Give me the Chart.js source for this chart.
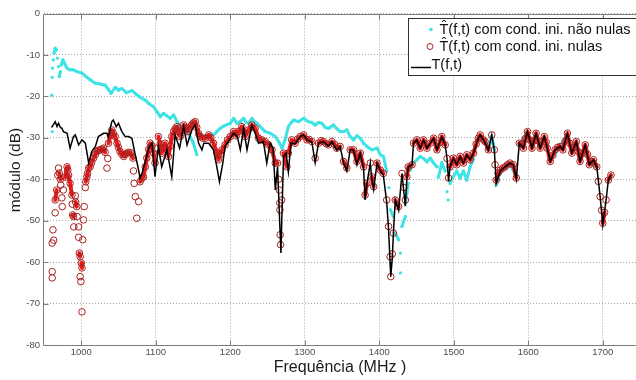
<!DOCTYPE html>
<html>
<head>
<meta charset="utf-8">
<script src="https://cdn.jsdelivr.net/npm/chart.js@4.4.1/dist/chart.umd.min.js"></script>
<style>
  html, body { margin: 0; padding: 0; background: #fff; overflow: hidden; }
  #wrap { width: 636px; height: 380px; overflow: hidden; }
</style>
</head>
<body>
<div id="wrap"><canvas id="chart" width="650" height="380"></canvas></div>
<script>
// eixos
var xTicks = [1000, 1100, 1200, 1300, 1400, 1500, 1600, 1700];
var yTicks = [0, -10, -20, -30, -40, -50, -60, -70, -80];
var seriesNames = ['T\u0302(f,t) com cond. ini. não nulas', 'T\u0302(f,t) com cond. ini. nulas', 'T(f,t)'];

// T^ com condições iniciais não nulas (pontos ciano)
var cyanFreq = [961, 960.5, 961, 961.5, 962.5, 963.5, 965, 967, 968, 969.5, 970.5, 972, 973, 975.5, 978.5, 981, 985, 989.5, 994,
  1001, 1005.5, 1012, 1018.5, 1025.5, 1032, 1036.5, 1040, 1045.5, 1050, 1054.5, 1060.5, 1068, 1072.5, 1079, 1086, 1090.5, 1097,
  1101.5, 1106, 1110.5, 1115, 1119.5, 1124, 1128.5, 1135, 1137.5, 1144, 1150.5, 1155, 1159.5, 1164, 1168.5, 1173, 1177.5, 1182,
  1186.5, 1193, 1200, 1204.5, 1209, 1213.5, 1218, 1221.5, 1224.5, 1229, 1232, 1236, 1242.5, 1247, 1253.5, 1260.5, 1265, 1269.5,
  1273.5, 1278, 1282, 1285, 1291.5, 1298.5, 1305, 1309.5, 1314, 1318.5, 1323, 1327.5, 1332, 1338.5, 1343, 1347.5, 1352, 1356.5,
  1361, 1365.5, 1370, 1374.5, 1379, 1383.5, 1390, 1397, 1401.5, 1405.5, 1410, 1413, 1415, 1419, 1421.5, 1426, 1428.5, 1428.5,
  1430.5, 1435, 1435, 1437, 1439, 1441.5, 1444, 1450.5, 1455, 1459.5, 1464, 1468.5, 1472.5, 1477.5, 1479.5, 1484, 1488.5, 1491,
  1492.5, 1495, 1499.5, 1504, 1508.5, 1513, 1517.5, 1522, 1526.5, 1533, 1540, 1546.5, 1551, 1554.5, 1557, 1562.5, 1575.5, 1584,
  1588, 1599, 1605, 1610.5, 1616, 1621.5, 1629.5, 1643, 1652.5, 1658.5, 1664.5, 1669.5, 1676.5, 1682, 1692, 1700, 1707.5, 1711];
var cyanDb = [-28.5, -19.7, -15.4, -13.2, -11.2, -9.6, -8.4, -8.8, -10.8, -12.8, -15.2, -14, -12.4, -11.2, -12.4, -13.2, -13.6, -13.6, -14,
  -14.4, -15.1, -16, -16.8, -17, -17.3, -18.3, -19.3, -17.8, -18.5, -18.1, -19.1, -18.6, -19.3, -20.2, -20.9, -21.7, -22.5,
  -23.7, -24.9, -24.1, -24.7, -25.3, -24.5, -26.1, -27.7, -27.3, -28.9, -31.3, -34, -29, -29.7, -29.5, -29.3, -29.3, -28.5,
  -27.7, -27, -26.5, -25.3, -26.5, -26.1, -25.3, -26.3, -26.5, -25.3, -26, -26.5, -27.7, -28.5, -28.9, -29.7, -30.9, -32.5,
  -30.5, -27.3, -26.3, -25.7, -26.1, -25.3, -26.1, -26.3, -26.9, -26.3, -26.5, -27.5, -27.7, -26.9, -27.8, -28.5, -28.5, -28.1,
  -29.7, -30.5, -29.5, -30.1, -31.3, -32.1, -32.9, -32.5, -34.1, -34.5, -38, -42, -47.4, -49, -53, -54.6, -57.8, -62.6,
  -51.4, -49, -45.8, -43.4, -41, -37.8, -36.5, -35.3, -34.5, -35, -35.8, -34.9, -36, -37, -39.5, -36, -38, -43,
  -45, -41, -39.4, -38, -39.7, -38, -40.2, -37, -35, -30.5, -30.5, -33, -29.5, -33, -41.4, -38, -36.3, -39.5,
  -31.5, -28.7, -32.3, -29, -32.3, -29.8, -35.5, -32, -29, -33.5, -31, -35.5, -31.8, -36.3, -37, -50, -40.3, -39];

// T^ com condições iniciais nulas (círculos vermelhos)
var redFreq = [961, 961, 961, 962, 963, 965, 965, 967, 968.5, 969.5, 970.5, 972, 972.5, 974, 974.5, 976, 978.5, 981, 982, 983, 985,
  987.5, 988, 988.5, 989.5, 990, 992, 992.5, 994, 994.5, 996.5, 996.5, 997.5, 998.5, 998.5, 999.5, 1000, 1001, 1001, 1002, 1003,
  1004, 1005.5, 1006, 1007.5, 1008.5, 1010, 1012, 1014, 1016.5, 1019, 1021, 1023, 1025.5, 1028, 1030, 1032, 1034.5, 1035.5, 1036.5,
  1039, 1041, 1043, 1045.5, 1048, 1050, 1052, 1054.5, 1057, 1059, 1061, 1063.5, 1066, 1069.5, 1070, 1071, 1072.5, 1074.5, 1077,
  1079, 1081.5, 1083.5, 1086, 1088, 1090.5, 1092.5, 1095, 1097, 1099, 1101.5, 1103.5, 1106, 1108, 1110.5, 1112.5, 1115, 1117,
  1119.5, 1121.5, 1124, 1126, 1128.5, 1130.5, 1133, 1135, 1137.5, 1139.5, 1142, 1144, 1146.5, 1148.5, 1150.5, 1153, 1155, 1157.5,
  1159.5, 1163, 1166.5, 1171, 1174, 1177.5, 1182, 1184, 1186.5, 1189, 1193, 1196.5, 1200, 1204.5, 1208, 1211, 1215.5, 1218, 1220,
  1224.5, 1229, 1233.5, 1238, 1242.5, 1247, 1251.5, 1256, 1260.5, 1263.5, 1265, 1266, 1266.5, 1266.7, 1267, 1267.5, 1269, 1271.5,
  1276, 1278, 1282.5, 1287, 1290.5, 1294, 1298.5, 1303, 1306, 1309.5, 1314, 1318.5, 1322, 1325, 1328.5, 1332, 1336.5, 1340, 1343,
  1347.5, 1352, 1356.5, 1361, 1365.5, 1370, 1374.5, 1379, 1381, 1383.5, 1388, 1390, 1392.5, 1397, 1401.5, 1405.5, 1410, 1412.5,
  1414.5, 1415.5, 1417.5, 1419, 1421.5, 1426, 1430.5, 1433, 1435, 1437, 1439, 1444, 1446, 1450.5, 1455, 1459.5, 1464, 1468.5,
  1473, 1477.5, 1481, 1484, 1488.5, 1491, 1493, 1495, 1499.5, 1504, 1508.5, 1513, 1517.5, 1522, 1526.5, 1530, 1533, 1535.5, 1540,
  1542, 1546.5, 1551, 1554.5, 1555.5, 1557, 1559.5, 1562.5, 1566, 1569, 1572, 1575.5, 1580, 1584, 1588, 1591, 1593.5, 1596, 1599,
  1602, 1605, 1608, 1610.5, 1613, 1616, 1619, 1621.5, 1624, 1625.5, 1629.5, 1633, 1636, 1639.5, 1643, 1646.5, 1649.5, 1652.5,
  1655.5, 1658.5, 1661.5, 1664.5, 1667, 1669.5, 1673, 1676.5, 1679.5, 1682, 1685, 1687.5, 1692, 1694, 1696.5, 1698.5, 1700, 1702.5,
  1704.5, 1707.5, 1711];
var redDb = [-62.3, -63.8, -55.4, -52.2, -54.7, -48.1, -45, -42.6, -39, -37.3, -38.5, -40, -41.4, -44.5, -46.6, -42.6, -39.5, -37, -37.8, -39, -41,
  -43.8, -46, -48.6, -49, -51.5, -44, -45.5, -46.6, -49, -51.5, -54, -57.8, -58.7, -63.5, -64.7, -60.2, -61.4, -72, -54.6, -49.8,
  -46.6, -42, -40.6, -39.4, -38.6, -37.3, -37, -36, -34.9, -34, -33.3, -33, -32.9, -32.7, -32.5, -33.5, -37.3, -35, -31.3,
  -29.5, -28.1, -28.9, -29.7, -31.3, -32.3, -33.3, -34, -34.5, -34, -33.7, -33.5, -33.6, -34.9, -38, -41, -44.2, -49.4, -45.4,
  -40.6, -39.8, -39.4, -37, -34.9, -32.8, -31.3, -32, -33.7, -36.1, -32.5, -29.7, -31.5, -33.7, -32.3, -31.3, -32.8, -34.5,
  -32, -29.7, -28.5, -27.8, -27.3, -28.5, -29.7, -28.3, -26.9, -27.5, -28.5, -27.8, -27.3, -26.8, -26.4, -26.1, -27.5, -29,
  -29.7, -30.1, -30.1, -29.3, -30, -31.3, -33.5, -35.3, -34, -32.9, -31.7, -30.5, -29.7, -28.5, -29.5, -28.5, -27.3, -28.5, -29.7,
  -28.1, -26.9, -27.7, -30.1, -30.5, -30.9, -31.7, -32.9, -36.1, -36.1, -40, -42.6, -45.7, -47.4, -53.4, -55.8, -45, -33.7,
  -37, -33.7, -30.5, -31.3, -30.3, -29.7, -29.3, -30.5, -30.4, -30.9, -34.9, -31.3, -30.7, -30.9, -31.4, -31.7, -30.9, -31.6, -32.5,
  -32.1, -35.7, -37.3, -32.9, -32.9, -35.7, -33.7, -37, -43.8, -41, -36.1, -39.4, -41.8, -36.1, -37.8, -38.6, -45, -51.4,
  -58.7, -63.5, -58, -53, -45, -46.6, -38.6, -42, -45, -39.4, -37, -36.5, -31.3, -30.5, -32.5, -30.5, -32.5, -31.3,
  -30.1, -32.9, -31.2, -29.7, -31.7, -35, -39.7, -37, -34.9, -36.5, -34.5, -36.1, -34.1, -35.3, -33.7, -31.5, -30.1, -29.3, -30.5,
  -30.9, -32.9, -29.3, -32.9, -36.5, -40.2, -38.5, -37.8, -37.3, -37, -36.5, -36.1, -36.5, -39.7, -31.3, -31.5, -32.5, -30.2, -28.5,
  -30.5, -32.5, -30.7, -28.9, -30.7, -32.5, -31, -29.7, -31, -32.5, -35.7, -34.2, -32.9, -32.3, -32.1, -32.9, -30.8, -28.9,
  -31.3, -33.7, -32.3, -30.9, -33.3, -35.7, -33.7, -31.7, -34, -36.5, -35.8, -35.3, -37, -40.5, -44.2, -47.5, -50.6, -48,
  -45, -40.2, -39];

// T(f,t) (linha preta)
var blackFreq = [960, 962, 965, 967.5, 969.5, 972, 974, 976, 981, 985, 989.5, 992, 996.5, 1001, 1005.5, 1010, 1014, 1019, 1023, 1030,
  1034.5, 1036.5, 1041, 1043, 1047, 1050, 1054.5, 1059, 1063.5, 1068, 1072.5, 1075.5, 1079, 1081.5, 1086, 1090.5, 1095, 1099,
  1103.5, 1108, 1115, 1121.5, 1126, 1132, 1137.5, 1142, 1148.5, 1153, 1157.5, 1162, 1164.5, 1171, 1177.5, 1182, 1185.5, 1190,
  1193, 1197.5, 1204.5, 1209.5, 1213.5, 1218, 1222.5, 1229, 1233.5, 1238, 1244.5, 1249, 1253.5, 1257.5, 1260.5, 1263.5, 1268,
  1271.5, 1275, 1278, 1281.5, 1287, 1294, 1298.5, 1303, 1309.5, 1314, 1318.5, 1325, 1332, 1336.5, 1343, 1347.5, 1352, 1356.5,
  1361, 1365.5, 1370, 1374.5, 1379, 1381, 1383.5, 1388, 1390, 1392.5, 1397, 1401.5, 1405.5, 1410, 1412.5, 1414.5, 1415.5,
  1417.5, 1419, 1421.5, 1426, 1430.5, 1433, 1435, 1437, 1439, 1444, 1446, 1450.5, 1455, 1459.5, 1464, 1468.5, 1473, 1477.5,
  1484, 1488.5, 1491, 1493, 1495, 1499.5, 1504, 1508.5, 1513, 1517.5, 1522, 1526.5, 1533, 1535.5, 1540, 1546.5, 1551, 1554.5,
  1557, 1562.5, 1569, 1575.5, 1580, 1584, 1588, 1593.5, 1599, 1605, 1610.5, 1616, 1621.5, 1625.5, 1629.5, 1636, 1643, 1646.5,
  1652.5, 1658.5, 1664.5, 1669.5, 1676.5, 1682, 1687.5, 1692, 1696.5, 1700, 1704.5, 1707.5, 1711];
var blackDb = [-27.5, -27, -26.1, -27.3, -26.5, -27.5, -27.7, -28.5, -28.9, -32.5, -29.7, -29.3, -31.7, -30.5, -31.3, -36.1, -33.3, -32.1, -29.7, -28.9,
  -28.9, -29.7, -26.1, -25.7, -27.3, -26.5, -28.5, -29.7, -29.7, -30.1, -34.1, -36.5, -39.7, -38.6, -35.7, -32.5, -31.3, -39.4,
  -32.1, -37, -32.9, -39.4, -29.3, -32.5, -27.3, -31.7, -28.1, -26.9, -31.3, -32.9, -31.3, -31.3, -32.9, -37, -40.6, -36.1,
  -32.1, -30.9, -28.9, -29.7, -32.9, -27.7, -32.9, -26.9, -28.9, -31.3, -30.9, -36.1, -31.3, -32.5, -42.6, -37, -57.8,
  -34.5, -33.7, -38.2, -31.3, -31.5, -29.7, -29.3, -30.5, -31, -36, -31.3, -30.9, -32, -30.9, -33, -32.1, -36, -38,
  -32.9, -33, -36.5, -33.7, -37.5, -45, -41, -36.1, -40, -42.5, -36.1, -38, -39, -45.5, -52, -60, -63.5,
  -59, -53, -45, -47.5, -38.6, -43, -46.5, -40, -37, -36.5, -31.3, -30.5, -32.5, -30.5, -32.5, -31.3, -30.1, -32.9,
  -29.7, -31.7, -35, -40.5, -37, -34.9, -36.5, -34.5, -36.1, -34.1, -35.3, -33.7, -30.1, -29.3, -30.5, -33, -29.3, -33,
  -41, -38, -37, -36.1, -36.5, -40, -31.3, -32.5, -28.5, -32.5, -28.9, -32.5, -29.7, -32.5, -35.7, -32.9, -32.1, -32.9,
  -28.9, -33.7, -30.9, -35.7, -31.7, -36.5, -35.3, -37, -44.2, -51, -45, -40.2, -39];

function toPoints(fs, vs) {
  return fs.map(function(f, i) { return { x: f, y: vs[i] }; });
}

var cyanColor = '#3fe3e6';
var redEdge = '#a82020';
var redBand = 'rgba(232, 16, 16, 0.95)';

// esconde o traço entre amostras soltas (saltos grandes ou muito íngremes)
function gapColor(limit, color) {
  return function(c) {
    var dy = Math.abs(c.p1.parsed.y - c.p0.parsed.y);
    var dx = Math.abs(c.p1.parsed.x - c.p0.parsed.x);
    return (dy > limit || dy > 1.2 * dx) ? 'rgba(0,0,0,0)' : color;
  };
}

// moldura, marcas dos eixos e títulos (estilo MATLAB)
var framePlugin = {
  id: 'frame',
  beforeDatasetsDraw: function(chart) {
    var ctx = chart.ctx, a = chart.chartArea;
    var xs = chart.scales.x, ys = chart.scales.y;
    var L = Math.round(a.left) - 0.5, T = Math.round(a.top) + 0.5, B = Math.round(a.bottom) + 0.5, R = a.right + 20;
    ctx.save();
    ctx.strokeStyle = '#7d7d7d';
    ctx.lineWidth = 1;
    ctx.beginPath();
    ctx.moveTo(R, T); ctx.lineTo(L, T); ctx.lineTo(L, B); ctx.lineTo(R, B);
    xTicks.forEach(function(v) {
      var px = Math.round(xs.getPixelForValue(v)) + 0.5;
      ctx.moveTo(px, B); ctx.lineTo(px, B - 5);
      ctx.moveTo(px, T); ctx.lineTo(px, T + 5);
    });
    yTicks.forEach(function(v) {
      var py = Math.round(ys.getPixelForValue(v)) + 0.5;
      ctx.moveTo(L, py); ctx.lineTo(L + 5, py);
    });
    ctx.stroke();
    ctx.restore();
  },
  afterDraw: function(chart) {
    var ctx = chart.ctx;
    ctx.save();
    ctx.fillStyle = '#1a1a1a';
    ctx.textAlign = 'center';
    ctx.textBaseline = 'middle';
    ctx.font = '16px "Liberation Sans", Arial, sans-serif';
    ctx.fillText('Frequência (MHz )', 340, 368);
    ctx.translate(16, 170);
    ctx.rotate(-Math.PI / 2);
    ctx.font = '15.5px "Liberation Sans", Arial, sans-serif';
    ctx.fillText('módulo (dB)', 0, 0);
    ctx.restore();

    // legenda
    ctx.save();
    ctx.fillStyle = '#ffffff';
    ctx.strokeStyle = '#303030';
    ctx.lineWidth = 1;
    ctx.fillRect(408.5, 18.5, 250, 57);
    ctx.strokeRect(408.5, 18.5, 250, 57);
    ctx.fillStyle = cyanColor;
    ctx.beginPath(); ctx.arc(431, 29.5, 1.8, 0, Math.PI * 2); ctx.fill();
    ctx.strokeStyle = redEdge;
    ctx.beginPath(); ctx.arc(430, 46.5, 3, 0, Math.PI * 2); ctx.stroke();
    ctx.strokeStyle = '#000';
    ctx.lineWidth = 1.5;
    ctx.beginPath(); ctx.moveTo(411, 67.5); ctx.lineTo(431, 67.5); ctx.stroke();
    ctx.fillStyle = '#111';
    ctx.font = '14.5px "Liberation Sans", Arial, sans-serif';
    ctx.textBaseline = 'alphabetic';
    ctx.fillText(seriesNames[0], 439.5, 33.5);
    ctx.fillText(seriesNames[1], 439.5, 50.5);
    ctx.fillText(seriesNames[2], 431.5, 69);
    ctx.restore();
  }
};

var tickFont = { family: '"Liberation Sans", Arial, sans-serif', size: 9.5 };

var chart = new Chart(document.getElementById('chart').getContext('2d'), {
  type: 'scatter',
  data: {
    datasets: [{
      label: seriesNames[2],
      data: toPoints(blackFreq, blackDb),
      showLine: true,
      borderColor: '#000',
      borderWidth: 1.5,
      pointRadius: 0,
      tension: 0
    }, {
      label: seriesNames[1],
      data: toPoints(redFreq, redDb),
      showLine: true,
      borderColor: redBand,
      borderWidth: 4,
      borderJoinStyle: 'round',
      borderCapStyle: 'round',
      segment: { borderColor: gapColor(3.5, redBand) },
      pointStyle: 'circle',
      pointRadius: 3.3,
      pointBorderWidth: 1,
      pointBorderColor: redEdge,
      pointBackgroundColor: 'rgba(0,0,0,0)'
    }, {
      label: seriesNames[0],
      data: toPoints(cyanFreq, cyanDb),
      showLine: true,
      borderColor: cyanColor,
      borderWidth: 3,
      borderJoinStyle: 'round',
      borderCapStyle: 'round',
      segment: { borderColor: gapColor(4, cyanColor) },
      pointRadius: 1.6,
      pointBorderWidth: 0,
      pointBackgroundColor: cyanColor
    }]
  },
  options: {
    responsive: false,
    animation: false,
    layout: { padding: { top: 13.5, right: 10, left: 0, bottom: 0 } },
    plugins: { legend: { display: false }, tooltip: { enabled: false } },
    scales: {
      x: {
        type: 'linear',
        min: 950,
        max: 1750,
        afterBuildTicks: function(s) { s.ticks = xTicks.map(function(v) { return { value: v }; }); },
        afterFit: function(s) { s.height = 35; },
        grid: { color: '#a8a8a8', drawTicks: false },
        border: { display: false, dash: [1, 2] },
        ticks: { color: '#4d4d4d', padding: 1.6, font: tickFont, callback: function(v) { return String(v); } }
      },
      y: {
        min: -80,
        max: 0,
        afterBuildTicks: function(s) { s.ticks = yTicks.map(function(v) { return { value: v }; }); },
        afterFit: function(s) { s.width = 44; },
        grid: { color: '#a8a8a8', drawTicks: false },
        border: { display: false, dash: [1, 2] },
        ticks: { color: '#4d4d4d', padding: 4, font: tickFont, callback: function(v) { return String(v); } }
      }
    }
  },
  plugins: [framePlugin]
});
</script>
</body>
</html>
